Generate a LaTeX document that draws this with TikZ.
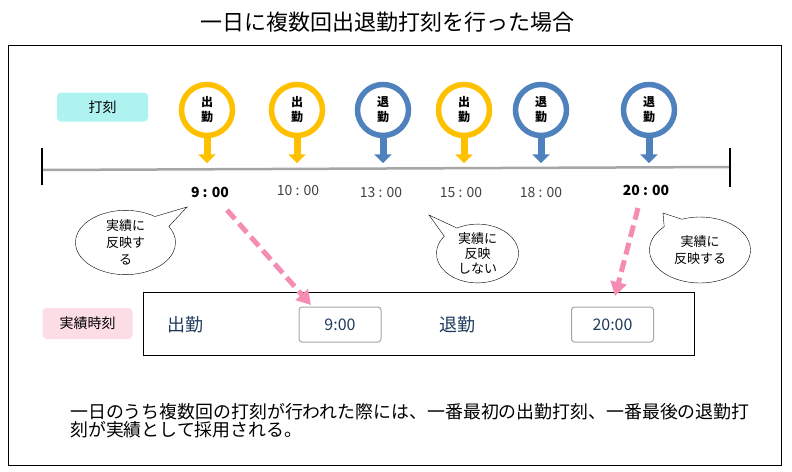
\documentclass[tikz,border=0pt]{standalone}
\usepackage{fontspec}
\setmainfont{Noto Sans CJK JP}
\usepackage{xcolor}
\usetikzlibrary{arrows.meta}
\usetikzlibrary{shapes.geometric}
\usetikzlibrary{shapes.callouts}
\definecolor{in_yellow}{HTML}{FFC000}
\definecolor{out_blue}{HTML}{4F81BD}
\definecolor{line_gray}{HTML}{A6A6A6}
\definecolor{arrow_pink}{HTML}{F48CB4}
\definecolor{pill_cyan}{HTML}{AFF3F1}
\definecolor{pill_pink}{HTML}{FCDDE6}
\definecolor{navy_text}{HTML}{1F3A5F}
\definecolor{time_gray}{HTML}{404040}
\tikzset{
    tnode/.style = {align=center, inner sep=0pt, text centered},
    pin/.style = {tnode, circle, line width=5.5pt, fill=white, minimum size=51pt, font=\fontsize{12}{15}\selectfont\bfseries},
    pin_in/.style = {pin, draw=in_yellow},
    pin_out/.style = {pin, draw=out_blue},
    stem_in/.style = {line width=7pt, in_yellow, -{Triangle[width=17pt,length=9pt]}},
    stem_out/.style = {line width=7pt, out_blue, -{Triangle[width=17pt,length=9pt]}},
    time/.style = {tnode, time_gray, font=\fontsize{14}{16}\selectfont},
    time_bold/.style = {tnode, black, font=\fontsize{14}{16}\selectfont\bfseries},
    pill/.style = {tnode, rectangle, rounded corners=4pt, font=\fontsize{14}{16}\selectfont},
    bubble/.style = {tnode, ellipse callout, draw=black, fill=white, thin, callout pointer arc=24, font=\fontsize{13}{17}\selectfont},
    value_box/.style = {tnode, rectangle, rounded corners=3pt, draw=line_gray, line width=1pt, minimum width=82pt, minimum height=35pt, text=navy_text, font=\fontsize{16}{18}\selectfont},
    kind/.style = {tnode, text=navy_text, font=\fontsize{18}{20}\selectfont},
    pink_arrow/.style = {line width=5pt, arrow_pink, dash pattern=on 12pt off 6pt, -{Triangle[width=16pt,length=14pt]}}
}

\begin{document}
\begin{tikzpicture}[x=1pt, y=-1pt]
    \useasboundingbox (0,0) rectangle (792,471);

    \node [tnode, font=\fontsize{22}{24}\selectfont] (title) at (387,22) {一日に複数回出退勤打刻を行った場合};
    \draw [line width=0.8pt] (8,45) rectangle (781,465);

    \node [pill, fill=pill_cyan, minimum width=91pt, minimum height=29pt] (stamp_pill) at (102.5,107) {打刻};
    \node [pill, fill=pill_pink, minimum width=90pt, minimum height=31pt] (result_pill) at (87.5,323.5) {実績時刻};

    % timeline
    \coordinate (line_start) at (42,170);
    \coordinate (line_end) at (730,167);
    \draw [line_gray, line width=2.5pt] (line_start) -- (line_end);
    \draw [line width=1.5pt] (line_start) ++(0,-22) -- ++(0,37);
    \draw [line width=1.5pt] (line_end) ++(0,-19) -- ++(0,39);

    % pins
    \foreach \name/\x/\kind/\label in {p1/207/in/出, p2/297/in/出, p3/383/out/退, p4/464/in/出, p5/541/out/退, p6/649/out/退} {
        \node [pin_\kind] (\name) at (\x,110) {\label\\勤};
        \draw [stem_\kind] (\name.south) -- ++(0,25);
    }

    \node [time_bold] (t1) at (210,192) {9 : 00};
    \node [time] (t2) at (298,191) {10 : 00};
    \node [time] (t3) at (381,193) {13 : 00};
    \node [time] (t4) at (461,193) {15 : 00};
    \node [time] (t5) at (541,193) {18 : 00};
    \node [time_bold] (t6) at (646,190) {20 : 00};

    % speech bubbles
    \coordinate (tip_a) at (187,207);
    \coordinate (tip_b) at (429,215);
    \coordinate (tip_c) at (663,213);
    \node [bubble, minimum width=100pt, minimum height=62pt, callout absolute pointer={(tip_a)}] (say_a) at (125.5,242.5) {実績に\\反映す\\る};
    \node [bubble, minimum width=82pt, minimum height=57pt, callout absolute pointer={(tip_b)}, font=\fontsize{13}{15}\selectfont] (say_b) at (477.5,253.5) {実績に\\反映\\しない};
    \node [bubble, minimum width=101pt, minimum height=66pt, callout absolute pointer={(tip_c)}] (say_c) at (700,250) {実績に\\反映する};

    % results
    \node [draw, thin, minimum width=551pt, minimum height=63pt] (result) at (418.5,323.5) {};
    \node [kind] (kind_in) at (185,325) {出勤};
    \node [kind] (kind_out) at (457,325) {退勤};
    \node [value_box] (val_in) at (340,324.5) {9:00};
    \node [value_box] (val_out) at (612.5,324.5) {20:00};

    \coordinate (from_a) at (227,210);
    \coordinate (to_a) at (311,305);
    \coordinate (from_b) at (638,208);
    \coordinate (to_b) at (615,296);
    \draw [pink_arrow] (from_a) -- (to_a);
    \draw [pink_arrow] (from_b) -- (to_b);

    \node [tnode, anchor=west, align=left, font=\fontsize{17.9}{18}\selectfont] (note) at (70,421)
        {一日のうち複数回の打刻が行われた際には、一番最初の出勤打刻、一番最後の退勤打\\刻が実績として採用される。};
\end{tikzpicture}
\end{document}
